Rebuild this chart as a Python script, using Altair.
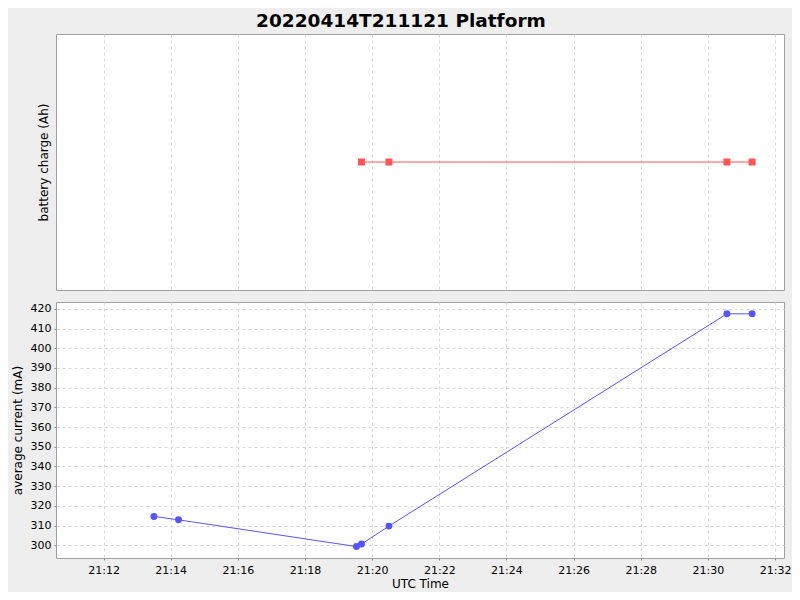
import altair as alt
import pandas as pd

# ---- data ----
current_times = ["21:13:30", "21:14:14", "21:19:32", "21:19:41", "21:20:30", "21:30:34", "21:31:19"]
current_vals = [314.6, 312.9, 299.3, 300.6, 309.7, 417.5, 417.5]

charge_times = ["21:19:41", "21:20:30", "21:30:34", "21:31:19"]
charge_vals = [0.0, 0.0, 0.0, 0.0]

tick_minutes = [12, 14, 16, 18, 20, 22, 24, 26, 28, 30, 32]
current_ticks = [300, 310, 320, 330, 340, 350, 360, 370, 380, 390, 400, 410, 420]

DAY = "2022-04-14T"
cur_df = pd.DataFrame({"t": [DAY + s + "Z" for s in current_times], "v": current_vals})
chg_df = pd.DataFrame({"t": [DAY + s + "Z" for s in charge_times], "v": charge_vals})

x_domain = [
    alt.DateTime(year=2022, month=4, date=14, hours=21, minutes=10, seconds=35, utc=True),
    alt.DateTime(year=2022, month=4, date=14, hours=21, minutes=32, seconds=16, utc=True),
]
x_values = [alt.DateTime(year=2022, month=4, date=14, hours=21, minutes=m, utc=True) for m in tick_minutes]
x_scale = alt.Scale(type="utc", domain=x_domain, nice=False)

FONT = "DejaVu Sans"
W, H = 728, 256

top_x = alt.X("t:T", scale=x_scale,
              axis=alt.Axis(values=x_values, labels=False, ticks=False, domain=False, title=None,
                            grid=True, gridColor="#D8D8D8", gridDash=[3, 3]))
top_base = alt.Chart(chg_df).encode(
    x=top_x,
    y=alt.Y("v:Q", scale=alt.Scale(domain=[-1, 1], nice=False),
            axis=alt.Axis(labels=False, ticks=False, domain=False, grid=False,
                          title="battery charge (Ah)", titlePadding=6)),
)
top = alt.layer(
    top_base.mark_line(color="#FF5555", strokeWidth=1),
    top_base.mark_point(shape="square", filled=True, size=49, color="#FF5555", opacity=1),
).properties(width=W, height=H)

bot_x = alt.X("t:T", scale=x_scale,
              axis=alt.Axis(values=x_values, format="%H:%M", title="UTC Time", domain=False,
                            grid=True, gridColor="#D8D8D8", gridDash=[3, 3],
                            tickColor="#888888", tickSize=2, labelPadding=4, titlePadding=3))
bot_base = alt.Chart(cur_df).encode(
    x=bot_x,
    y=alt.Y("v:Q", scale=alt.Scale(domain=[293.5, 423.5], nice=False, zero=False),
            axis=alt.Axis(values=current_ticks, title="average current (mA)", domain=False,
                          grid=True, gridColor="#D8D8D8", gridDash=[3, 3],
                          tickColor="#888888", tickSize=2, labelPadding=3, titlePadding=6)),
)
bot = alt.layer(
    bot_base.mark_line(color="#5555FF", strokeWidth=1),
    bot_base.mark_circle(size=48, color="#5555FF", opacity=1),
).properties(width=W, height=H)

chart = alt.vconcat(top, bot, spacing=10).properties(
    title=alt.TitleParams("20220414T211121 Platform", fontSize=18.5, fontWeight="bold",
                          font=FONT, anchor="middle", offset=3, color="#000000"),
    background="#EEEEEE",
    padding={"left": 2, "right": 0, "top": 4, "bottom": 2},
).configure_view(
    fill="white", stroke="#A0A0A0", strokeWidth=1
).configure_axis(
    labelFont=FONT, titleFont=FONT, labelFontSize=11, titleFontSize=12,
    labelColor="#000000", titleColor="#000000", titleFontWeight="normal",
)

chart.save("out.html", embed_options={"renderer": "svg", "actions": False})
